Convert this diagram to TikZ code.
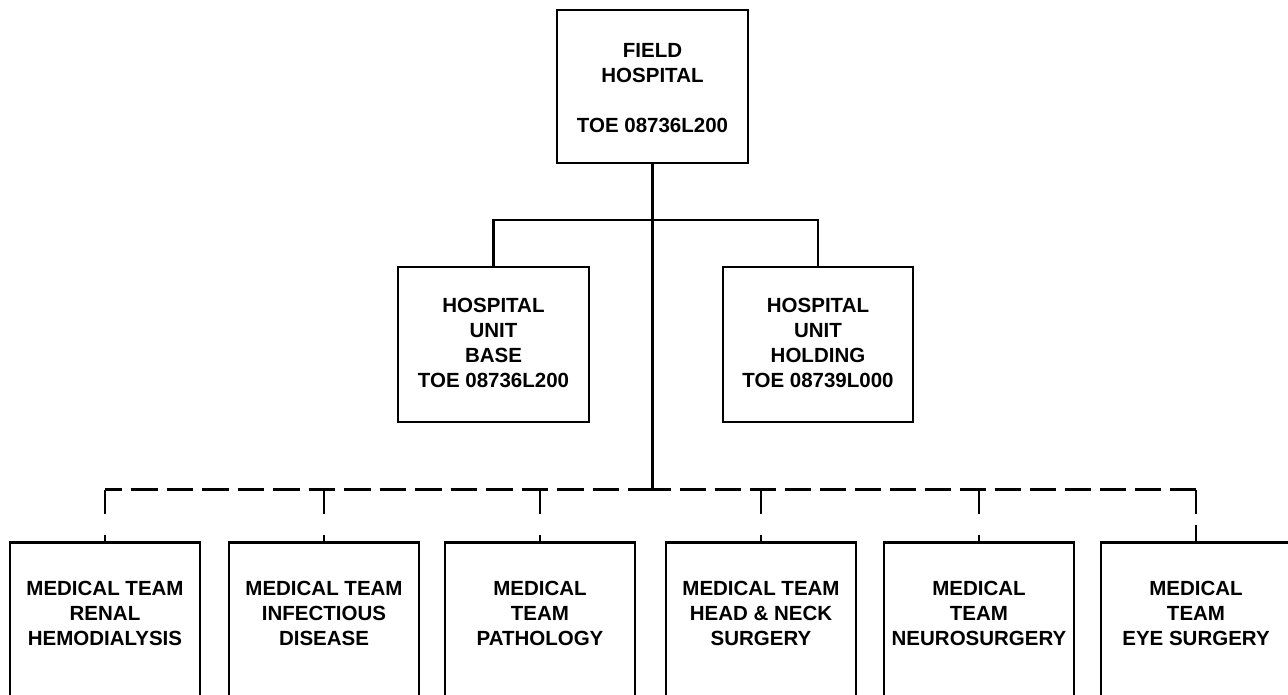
\documentclass[tikz,border=0pt]{standalone}
\usepackage{fontspec}
\setmainfont{Liberation Sans}
\begin{document}
\begin{tikzpicture}[x=1pt,y=-1pt,
  lw/.style={line width=2.8pt},
  boxstyle/.style={draw,lw,rectangle,inner sep=0pt},
  lbl/.style={align=center,font=\fontsize{20.5}{25}\selectfont\bfseries,inner sep=0pt},
  solidlink/.style={lw},
  hdashl/.style={lw,dash pattern=on 26.5pt off 9pt,dash phase=9.5pt},
  hdashr/.style={lw,dash pattern=on 26pt off 9pt},
  vdash/.style={lw,dash pattern=on 24pt off 21pt},
  vdashb/.style={lw,dash pattern=on 24pt off 11pt}]
\useasboundingbox (0,0) rectangle (1288,694);
\clip (0,0) rectangle (1288,694);
% top
\node[boxstyle,minimum width=191pt,minimum height=153pt] (fh) at (652.5,86.5) {};
\node[lbl] (fht) at (652.5,88) {FIELD\\HOSPITAL\\[25pt]TOE 08736L200};
% second level
\node[boxstyle,minimum width=191pt,minimum height=155pt] (hb) at (493.5,344.5) {};
\node[lbl] (hbt) at (493.5,343) {HOSPITAL\\UNIT\\BASE\\TOE 08736L200};
\node[boxstyle,minimum width=190pt,minimum height=155pt] (hh) at (818,344.5) {};
\node[lbl] (hht) at (818,343) {HOSPITAL\\UNIT\\HOLDING\\TOE 08739L000};
% junctions
\coordinate (j1) at (652.5,220);
\coordinate (j2) at (652.5,489.5);
\draw[solidlink] (fh.south) -- (j2);
\draw[solidlink] (hb.north) |- (j1) -| (hh.north);
% bottom boxes
\foreach \i/\x/\t in {1/105/{MEDICAL TEAM\\RENAL\\HEMODIALYSIS},
                      2/324/{MEDICAL TEAM\\INFECTIOUS\\DISEASE},
                      3/540/{MEDICAL\\TEAM\\PATHOLOGY},
                      4/761/{MEDICAL TEAM\\HEAD \& NECK\\SURGERY},
                      5/979/{MEDICAL\\TEAM\\NEUROSURGERY},
                      6/1196/{MEDICAL\\TEAM\\EYE SURGERY}}{
  \node[boxstyle,minimum width=190pt,minimum height=220pt,anchor=north] (m\i) at (\x,541) {};
  \node[lbl] (t\i) at (\x,613) {\t};
  \coordinate (d\i) at (\x,489.5);
}
\draw[hdashl] (d1) -- (j2);
\draw[hdashr] (d6) -- (j2);
\foreach \i in {1,2,3,4,5}{\draw[vdash] (d\i) -- (m\i.north);}
\draw[vdashb] (d6) -- (m6.north);
\end{tikzpicture}
\end{document}
